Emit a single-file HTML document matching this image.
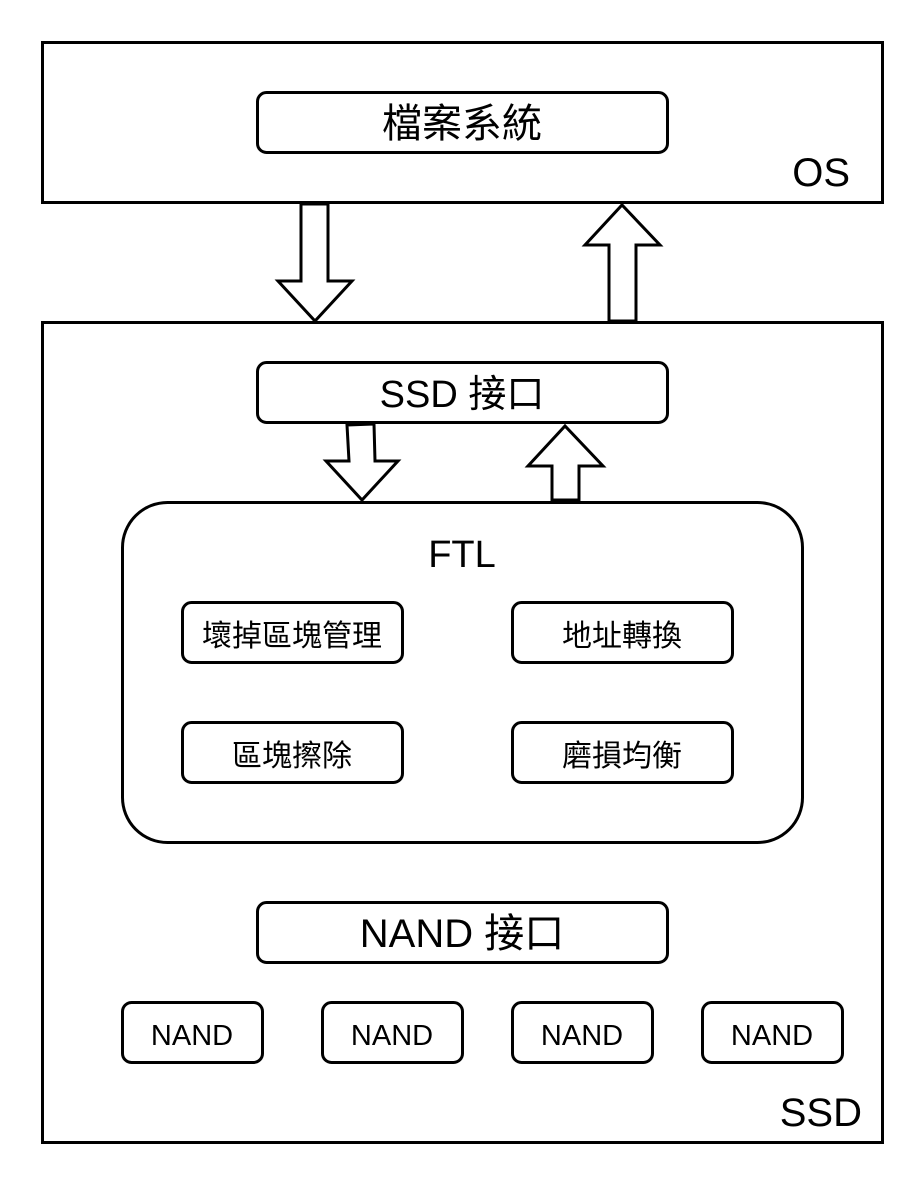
<!DOCTYPE html>
<html><head><meta charset="utf-8"><style>
body{margin:0;background:#fff}
svg text{font-family:"Liberation Sans","Noto Sans CJK TC",sans-serif;fill:#000}
</style></head><body>
<svg width="924" height="1184" viewBox="0 0 924 1184" xmlns="http://www.w3.org/2000/svg">
<g fill="#fff" stroke="#000" stroke-width="3">
<rect x="42.5" y="42.5" width="840" height="160"/>
<rect x="42.5" y="322.5" width="840" height="820"/>
<rect x="257.5" y="92.5" width="410" height="60" rx="9"/>
<rect x="257.5" y="362.5" width="410" height="60" rx="9"/>
<rect x="122.5" y="502.5" width="680" height="340" rx="45"/>
<rect x="182.5" y="602.5" width="220" height="60" rx="9"/>
<rect x="512.5" y="602.5" width="220" height="60" rx="9"/>
<rect x="182.5" y="722.5" width="220" height="60" rx="9"/>
<rect x="512.5" y="722.5" width="220" height="60" rx="9"/>
<rect x="257.5" y="902.5" width="410" height="60" rx="9"/>
<rect x="122.5" y="1002.5" width="140" height="60" rx="9"/>
<rect x="322.5" y="1002.5" width="140" height="60" rx="9"/>
<rect x="512.5" y="1002.5" width="140" height="60" rx="9"/>
<rect x="702.5" y="1002.5" width="140" height="60" rx="9"/>
<polygon points="301,204 328,204 328,281 352,281 315,321 278,281 301,281"/>
<polygon points="609,321 636,321 636,245 660,245 622,205 585,245 609,245"/>
<polygon points="347,425 374,424 375,461 398,461 362,500 326,461 349,461"/>
<polygon points="552,500 579,500 579,466 603,466 565,426 528,466 552,466"/>
</g>
<g text-anchor="middle">
<text x="462" y="137" font-size="40">檔案系統</text>
<text x="462" y="407" font-size="38">SSD 接口</text>
<text x="462" y="567" font-size="38">FTL</text>
<text x="292" y="646" font-size="30">壞掉區塊管理</text>
<text x="622" y="646" font-size="30">地址轉換</text>
<text x="292" y="766" font-size="30">區塊擦除</text>
<text x="622" y="766" font-size="30">磨損均衡</text>
<text x="462" y="947" font-size="40">NAND 接口</text>
<text x="192" y="1045" font-size="29">NAND</text>
<text x="392" y="1045" font-size="29">NAND</text>
<text x="582" y="1045" font-size="29">NAND</text>
<text x="772" y="1045" font-size="29">NAND</text>
</g>
<text x="850" y="186" font-size="40" text-anchor="end">OS</text>
<text x="862" y="1126" font-size="40" text-anchor="end">SSD</text>
</svg>
</body></html>
